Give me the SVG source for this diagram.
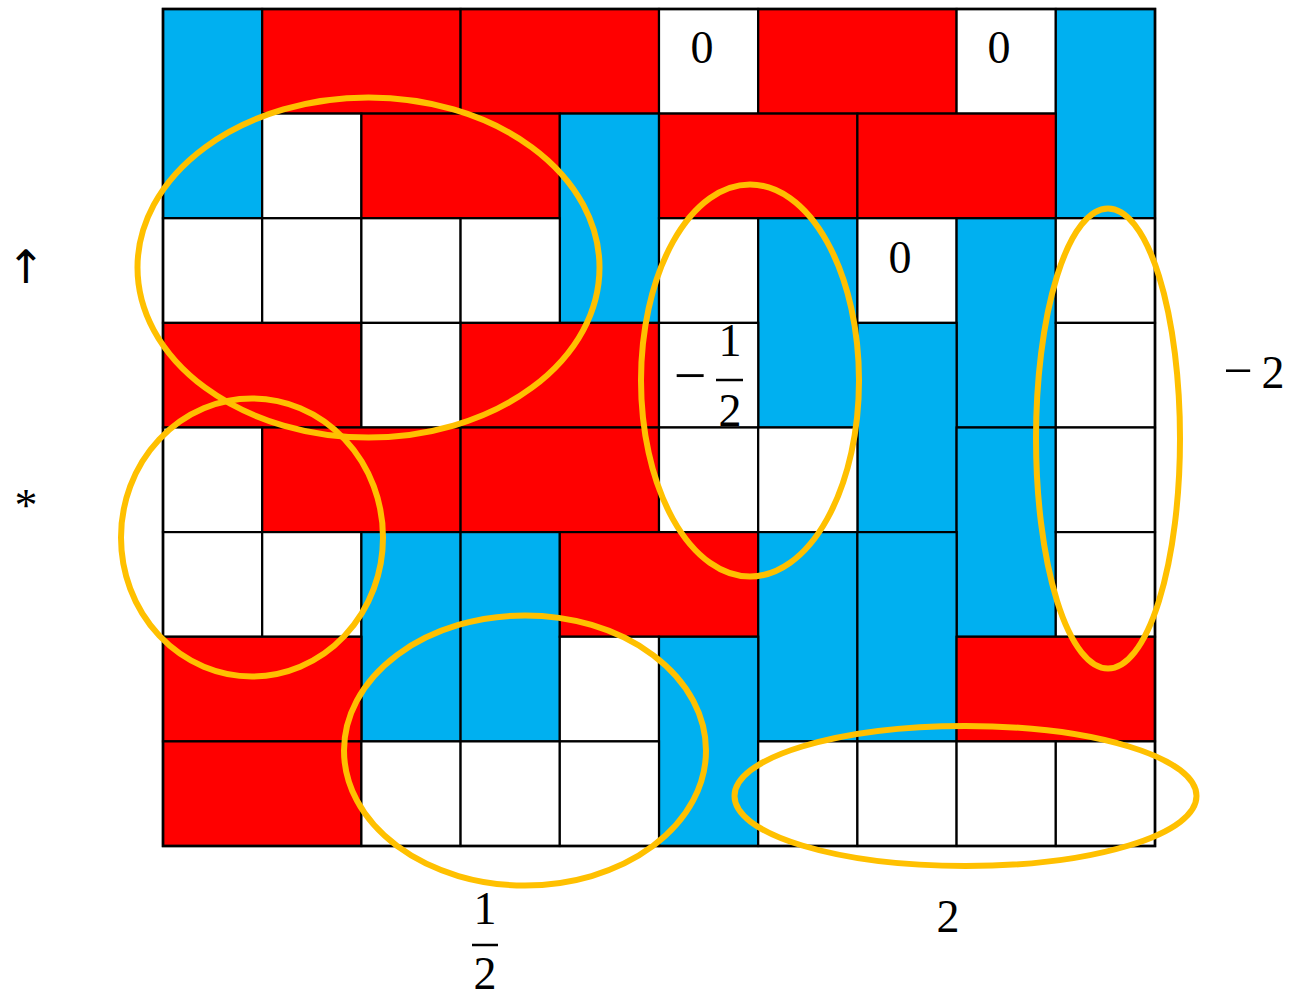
<svg xmlns="http://www.w3.org/2000/svg" width="1293" height="997" viewBox="0 0 1293 997">
<style>
.b{fill:#00B0F0;stroke:#000;stroke-width:2.2}
.r{fill:#FF0000;stroke:#000;stroke-width:2.2}
.w{fill:#FFFFFF;stroke:#000;stroke-width:2.2}
.o{fill:none;stroke:#FFC000;stroke-width:6}
.t{font-family:"Liberation Serif","Times New Roman",serif;font-size:46px;fill:#000;text-anchor:middle}
.m{font-family:"Liberation Serif","Times New Roman",serif;font-size:58px;fill:#000;text-anchor:middle}
.a{font-family:"DejaVu Sans","DejaVu Serif",sans-serif;font-size:46px;fill:#000;text-anchor:middle}
.bar{stroke:#000;stroke-width:2.5}
</style>
<rect width="1293" height="997" fill="#fff"/>
<g id="grid">
<!-- row 0 -->
<rect class="b" x="163" y="9" width="99.2" height="209.25"/>
<rect class="r" x="262.2" y="9" width="198.4" height="104.6"/>
<rect class="r" x="460.6" y="9" width="198.4" height="104.6"/>
<rect class="w" x="659" y="9" width="99.2" height="104.6"/>
<rect class="r" x="758.2" y="9" width="198.4" height="104.6"/>
<rect class="w" x="956.6" y="9" width="99.2" height="104.6"/>
<rect class="b" x="1055.8" y="9" width="99.2" height="209.25"/>
<!-- row 1 -->
<rect class="w" x="262.2" y="113.6" width="99.2" height="104.65"/>
<rect class="r" x="361.4" y="113.6" width="198.4" height="104.65"/>
<rect class="b" x="559.8" y="113.6" width="99.2" height="209.3"/>
<rect class="r" x="659" y="113.6" width="198.4" height="104.65"/>
<rect class="r" x="857.4" y="113.6" width="198.4" height="104.65"/>
<!-- row 2 -->
<rect class="w" x="163" y="218.25" width="99.2" height="104.65"/>
<rect class="w" x="262.2" y="218.25" width="99.2" height="104.65"/>
<rect class="w" x="361.4" y="218.25" width="99.2" height="104.65"/>
<rect class="w" x="460.6" y="218.25" width="99.2" height="104.65"/>
<rect class="w" x="659" y="218.25" width="99.2" height="104.65"/>
<rect class="b" x="758.2" y="218.25" width="99.2" height="209.25"/>
<rect class="w" x="857.4" y="218.25" width="99.2" height="104.65"/>
<rect class="b" x="956.6" y="218.25" width="99.2" height="209.25"/>
<rect class="w" x="1055.8" y="218.25" width="99.2" height="104.65"/>
<!-- row 3 -->
<rect class="r" x="163" y="322.9" width="198.4" height="104.6"/>
<rect class="w" x="361.4" y="322.9" width="99.2" height="104.6"/>
<rect class="r" x="460.6" y="322.9" width="198.4" height="104.6"/>
<rect class="w" x="659" y="322.9" width="99.2" height="104.6"/>
<rect class="b" x="857.4" y="322.9" width="99.2" height="209.2"/>
<rect class="w" x="1055.8" y="322.9" width="99.2" height="104.6"/>
<!-- row 4 -->
<rect class="w" x="163" y="427.5" width="99.2" height="104.6"/>
<rect class="r" x="262.2" y="427.5" width="198.4" height="104.6"/>
<rect class="r" x="460.6" y="427.5" width="198.4" height="104.6"/>
<rect class="w" x="659" y="427.5" width="99.2" height="104.6"/>
<rect class="w" x="758.2" y="427.5" width="99.2" height="104.6"/>
<rect class="b" x="956.6" y="427.5" width="99.2" height="209.25"/>
<rect class="w" x="1055.8" y="427.5" width="99.2" height="104.6"/>
<!-- row 5 -->
<rect class="w" x="163" y="532.1" width="99.2" height="104.65"/>
<rect class="w" x="262.2" y="532.1" width="99.2" height="104.65"/>
<rect class="b" x="361.4" y="532.1" width="99.2" height="209.3"/>
<rect class="b" x="460.6" y="532.1" width="99.2" height="209.3"/>
<rect class="r" x="559.8" y="532.1" width="198.4" height="104.65"/>
<rect class="b" x="758.2" y="532.1" width="99.2" height="209.3"/>
<rect class="b" x="857.4" y="532.1" width="99.2" height="209.3"/>
<rect class="w" x="1055.8" y="532.1" width="99.2" height="104.65"/>
<!-- row 6 -->
<rect class="r" x="163" y="636.75" width="198.4" height="104.65"/>
<rect class="w" x="559.8" y="636.75" width="99.2" height="104.65"/>
<rect class="b" x="659" y="636.75" width="99.2" height="209.25"/>
<rect class="r" x="956.6" y="636.75" width="198.4" height="104.65"/>
<!-- row 7 -->
<rect class="r" x="163" y="741.4" width="198.4" height="104.6"/>
<rect class="w" x="361.4" y="741.4" width="99.2" height="104.6"/>
<rect class="w" x="460.6" y="741.4" width="99.2" height="104.6"/>
<rect class="w" x="559.8" y="741.4" width="99.2" height="104.6"/>
<rect class="w" x="758.2" y="741.4" width="99.2" height="104.6"/>
<rect class="w" x="857.4" y="741.4" width="99.2" height="104.6"/>
<rect class="w" x="956.6" y="741.4" width="99.2" height="104.6"/>
<rect class="w" x="1055.8" y="741.4" width="99.2" height="104.6"/>
<rect x="163" y="9" width="992" height="837" fill="none" stroke="#000" stroke-width="2.6"/>
</g>
<g id="cell-labels">
<text class="t" x="702" y="63">0</text>
<text class="t" x="999" y="63">0</text>
<text class="t" x="900" y="273">0</text>
<text class="m" x="690" y="395">−</text>
<text class="t" x="730" y="356">1</text>
<line class="bar" x1="716" y1="380" x2="743" y2="380"/>
<text class="t" x="730" y="426">2</text>
</g>
<g id="side-labels">
<text class="a" x="26" y="283">↑</text>
<text class="t" x="26" y="521">*</text>
<text class="m" x="1238" y="388" style="font-size:52px">−</text>
<text class="t" x="1273" y="388">2</text>
<text class="t" x="485" y="924">1</text>
<line class="bar" x1="472" y1="945" x2="498" y2="945"/>
<text class="t" x="485" y="989">2</text>
<text class="t" x="948" y="932">2</text>
</g>
<g id="ellipses">
<ellipse class="o" cx="368.5" cy="267.5" rx="231" ry="170"/>
<ellipse class="o" cx="252" cy="537.5" rx="131" ry="139"/>
<ellipse class="o" cx="525" cy="750.5" rx="181" ry="135"/>
<ellipse class="o" cx="750" cy="380.5" rx="109" ry="196"/>
<ellipse class="o" cx="1108" cy="438.5" rx="72" ry="230"/>
<ellipse class="o" cx="965.5" cy="796" rx="231" ry="70"/>
</g>
</svg>
